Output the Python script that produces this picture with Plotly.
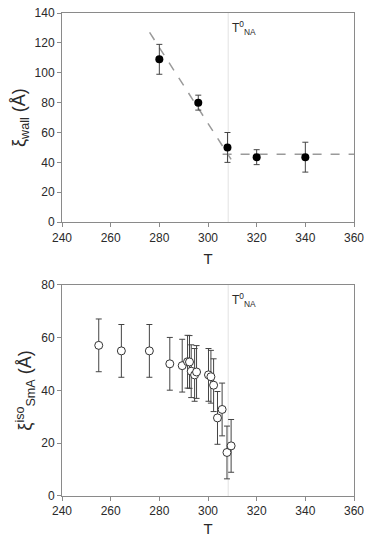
import plotly.graph_objects as go

# Top panel: wall correlation length
T_wall = [280, 296, 308, 320, 340]
xi_wall = [109, 80, 50, 43.5, 43.5]
xi_wall_err = [10, 5, 10, 5, 10]

fit_T = [276, 309.5]
fit_xi = [127, 42]
plateau_T = [306, 360]
plateau_xi = [45.5, 45.5]

T_NA = 308.3

# Bottom panel: isotropic SmA correlation length
T_iso = [255.1, 264.4, 275.9, 284.3, 289.4, 291.6, 292.4, 293.1, 294.5, 295.3,
         300.2, 301.2, 302.3, 303.9, 305.8, 307.8, 309.5]
xi_iso = [57.1, 55.0, 55.0, 50.1, 49.4, 50.9, 50.8, 47.3, 45.9, 47.0,
          45.9, 45.2, 42.0, 29.6, 32.8, 16.5, 19.0]
xi_iso_err = [10] * len(T_iso)

x_ticks = [240, 260, 280, 300, 320, 340, 360]

FONT = "Liberation Sans, Arial, sans-serif"
TXT = "#2a2a2a"
AX = "#8a8a8a"

fig = go.Figure()

# vertical T_NA lines
for xa, ya, ymax in [("x", "y", 140), ("x2", "y2", 80)]:
    fig.add_trace(go.Scatter(x=[T_NA, T_NA], y=[0, ymax], mode="lines",
                             line=dict(color="#e2e2e2", width=1),
                             xaxis=xa, yaxis=ya, hoverinfo="skip"))

fig.add_trace(go.Scatter(x=fit_T, y=fit_xi, mode="lines",
                         line=dict(color="#9a9a9a", width=1.5, dash="dash"),
                         xaxis="x", yaxis="y"))
fig.add_trace(go.Scatter(x=plateau_T, y=plateau_xi, mode="lines",
                         line=dict(color="#9a9a9a", width=1.5, dash="dash"),
                         xaxis="x", yaxis="y"))

fig.add_trace(go.Scatter(
    x=T_wall, y=xi_wall, mode="markers",
    marker=dict(color="black", size=8),
    error_y=dict(type="data", array=xi_wall_err, color="#444444", thickness=1, width=3),
    xaxis="x", yaxis="y"))

fig.add_trace(go.Scatter(
    x=T_iso, y=xi_iso, mode="markers",
    marker=dict(color="white", size=8, line=dict(color="#333333", width=1)),
    error_y=dict(type="data", array=xi_iso_err, color="#444444", thickness=1, width=3),
    xaxis="x2", yaxis="y2"))

axis_common = dict(showgrid=False, zeroline=False, showline=True, linecolor=AX,
                   linewidth=1, mirror=True, ticks="outside", tickcolor=AX,
                   ticklen=4, tickfont=dict(family=FONT, size=12, color=TXT),
                   automargin=False)

fig.update_layout(
    width=369, height=537,
    margin=dict(l=62, r=15, t=13, b=41),
    paper_bgcolor="white", plot_bgcolor="white",
    showlegend=False,
    font=dict(family=FONT, color=TXT),
    xaxis=dict(domain=[0, 1], range=[240, 360], tickvals=x_ticks, anchor="y",
               title=dict(text="T", font=dict(size=15, family=FONT, color=TXT), standoff=9),
               **axis_common),
    yaxis=dict(domain=[0.567, 1], range=[0, 140], tickvals=[0, 20, 40, 60, 80, 100, 120, 140],
               anchor="x",
               title=dict(text="ξ<sub>wall</sub> (Å)", font=dict(size=18, family=FONT, color=TXT),
                          standoff=4),
               **axis_common),
    xaxis2=dict(domain=[0, 1], range=[240, 360], tickvals=x_ticks, anchor="y2",
                title=dict(text="T", font=dict(size=15, family=FONT, color=TXT), standoff=7),
                **axis_common),
    yaxis2=dict(domain=[0, 0.437], range=[0, 80], tickvals=[0, 20, 40, 60, 80], anchor="x2",
                title=dict(text="ξ<sup>iso</sup><sub>SmA</sub> (Å)",
                           font=dict(size=18, family=FONT, color=TXT), standoff=4),
                **axis_common),
)

fig.add_annotation(x=T_NA + 0.8, y=137, xref="x", yref="y", xanchor="left", yanchor="top",
                   text="T<sup>0</sup><sub>NA</sub>", showarrow=False,
                   font=dict(family=FONT, size=12, color=TXT))
fig.add_annotation(x=T_NA + 0.8, y=78.5, xref="x2", yref="y2", xanchor="left", yanchor="top",
                   text="T<sup>0</sup><sub>NA</sub>", showarrow=False,
                   font=dict(family=FONT, size=12, color=TXT))

fig.write_html("out.html")
